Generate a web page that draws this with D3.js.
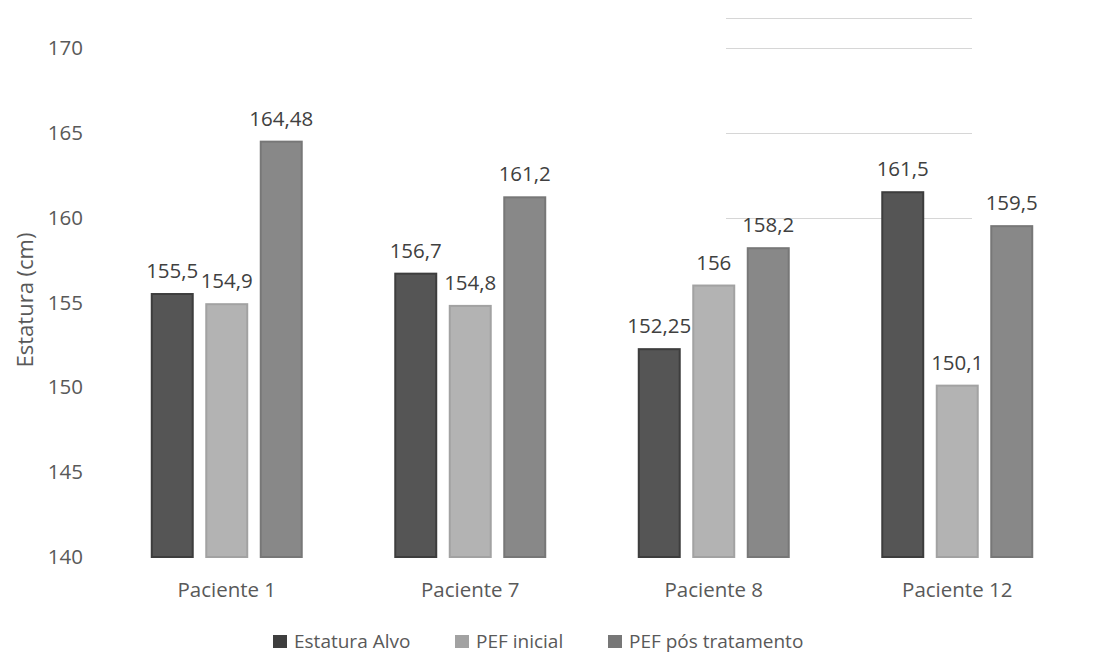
<!DOCTYPE html>
<html>
<head>
<meta charset="utf-8">
<script src="https://cdn.jsdelivr.net/npm/d3@7"></script>
<style>
  html, body { margin: 0; padding: 0; background: #fff; }
  svg { display: block; font-family: "Open Sans", "Noto Sans", sans-serif; }
</style>
</head>
<body>
<svg id="chart" width="1099" height="653"></svg>
<script>
// Patients and the three height measures (cm)
const categories = ["Paciente 1", "Paciente 7", "Paciente 8", "Paciente 12"];
const seriesNames = ["Estatura Alvo", "PEF inicial", "PEF pós tratamento"];
const estaturaAlvo = [155.5, 156.7, 152.25, 161.5];
const pefInicial = [154.9, 154.8, 156, 150.1];
const pefPos = [164.48, 161.2, 158.2, 159.5];
const yTicks = [140, 145, 150, 155, 160, 165, 170];
const partialGrid = [160, 165, 170, 171.75];

const seriesValues = [estaturaAlvo, pefInicial, pefPos];
const fills = ["#555555", "#b3b3b3", "#888888"];
const strokes = ["#3e3e3e", "#a2a2a2", "#777777"];

const svg = d3.select("#chart");
const textColor = "#595959";
const font = "'Open Sans', 'Noto Sans', sans-serif";

const x0 = d3.scaleBand().domain(categories).range([105, 1079]).padding(0);
const x1 = d3.scaleBand().domain(seriesNames).range([0, x0.bandwidth()])
  .paddingInner(0.248).paddingOuter(0.858);
const y = d3.scaleLinear().domain([140, 170]).range([557, 48]);

const defs = svg.append("defs");
defs.append("filter").attr("id", "soft")
  .attr("x", "-20%").attr("y", "-5%").attr("width", "140%").attr("height", "110%")
  .append("feGaussianBlur").attr("stdDeviation", 0.7);

// faint partial gridlines in the upper right
svg.append("g").selectAll("line").data(partialGrid).join("line")
  .attr("x1", 726).attr("x2", 972)
  .attr("y1", d => Math.round(y(d)) + 0.5).attr("y2", d => Math.round(y(d)) + 0.5)
  .attr("stroke", "#d6d6d6").attr("stroke-width", 1);

// y axis (labels only)
const yAxis = d3.axisLeft(y).tickValues(yTicks).tickSize(0).tickPadding(0)
  .tickFormat(d3.format("d"));
const gy = svg.append("g").attr("transform", "translate(83,0)").call(yAxis);
gy.select(".domain").remove();
gy.selectAll("text").attr("fill", textColor).style("font-size", "20.5px")
  .style("font-family", font);

// y axis title
svg.append("text")
  .attr("transform", "translate(33,300) rotate(-90)")
  .attr("text-anchor", "middle")
  .attr("fill", textColor).style("font-size", "22px")
  .text("Estatura (cm)");

// bars
const fmt = v => String(v).replace(".", ",");
const groups = svg.append("g").selectAll("g").data(categories).join("g")
  .attr("transform", d => `translate(${x0(d)},0)`);

groups.each(function (cat, ci) {
  const g = d3.select(this);
  seriesNames.forEach((s, si) => {
    const v = seriesValues[si][ci];
    g.append("rect")
      .attr("x", x1(s)).attr("width", x1.bandwidth())
      .attr("y", y(v)).attr("height", y(140) - y(v))
      .attr("fill", fills[si]).attr("stroke", strokes[si]).attr("stroke-width", 2)
      .attr("filter", "url(#soft)");
    g.append("text")
      .attr("x", x1(s) + x1.bandwidth() / 2)
      .attr("y", y(v) - 16)
      .attr("text-anchor", "middle")
      .attr("fill", "#404040").style("font-size", "20.5px")
      .text(fmt(v));
  });
});

// x axis labels
const xAxis = d3.axisBottom(x0).tickSize(0).tickPadding(0);
const gx = svg.append("g").attr("transform", "translate(0,597)").call(xAxis);
gx.select(".domain").remove();
gx.selectAll("text").attr("fill", textColor).style("font-size", "20.5px")
  .style("font-family", font)
  .attr("dy", null).attr("y", 0);

// legend
const legendX = [273, 455, 608];
const legend = svg.append("g").selectAll("g").data(seriesNames).join("g")
  .attr("transform", (d, i) => `translate(${legendX[i]},635)`);
legend.append("rect").attr("width", 14).attr("height", 13)
  .attr("fill", (d, i) => strokes[i]);
legend.append("text").attr("x", 21).attr("y", 12.5)
  .attr("fill", textColor).style("font-size", "19px")
  .text(d => d);
</script>
</body>
</html>
